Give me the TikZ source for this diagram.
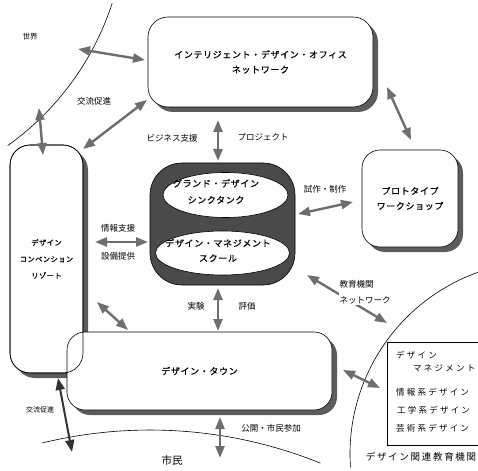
\documentclass[tikz,border=0pt]{standalone}
\usepackage{fontspec}
\newfontfamily\jp{Noto Sans CJK JP}
\newfontfamily\jpb[LetterSpace=7,FakeBold=0.6]{Noto Sans CJK JP}
\newfontfamily\jpw[LetterSpace=26]{Noto Sans CJK JP}
\newfontfamily\jpm[LetterSpace=18]{Noto Sans CJK JP}
\usetikzlibrary{arrows.meta,shadows,shapes.geometric}
\definecolor{arrgray}{HTML}{6E6E6E}
\definecolor{shd}{HTML}{5C5C5C}
\definecolor{darkfill}{HTML}{4A4A4A}
\tikzset{
  boxnode/.style={draw, fill=white, line width=0.6pt, inner sep=0pt, align=center,
    font=\jpb\fontsize{9}{15}\selectfont,
    drop shadow={shadow xshift=5pt, shadow yshift=-5pt, fill=shd, opacity=1}},
  dbl/.style={{Triangle[length=12pt,width=9pt]}-{Triangle[length=12pt,width=9pt]},
    line width=2.4pt, draw=arrgray},
  dbldark/.style={dbl, draw=black!80, line width=2pt},
  lab/.style={font=\jp\fontsize{8.5}{16}\selectfont, inner sep=0.5pt},
  curve/.style={line width=0.6pt},
  edutext/.style={font=\jpw\fontsize{8.5}{11}\selectfont, inner sep=0pt, anchor=west},
}
\begin{document}
\begin{tikzpicture}[x=1pt,y=-1pt]
\useasboundingbox (0,0) rectangle (478,470);
\clip (0,0) rectangle (478,470);

% boundary curves
\draw[curve] (-156,-84) ++(18:282) arc[start angle=18,end angle=54.5,radius=282];
\draw[curve] (543,454) ++(176:193) arc[start angle=176,end angle=256,radius=193];
\draw[curve] (150,885) ++(-103.7:455) arc[start angle=-103.7,end angle=-68,radius=455];

% boxes
\node[boxnode, rounded corners=20pt, minimum width=225pt, minimum height=90pt] (idon) at (260.5,62)
  {インテリジェント・デザイン・オフィス\\ネットワーク};
\node[boxnode, rounded corners=18pt, minimum width=96pt, minimum height=97pt] (proto) at (410,198.5)
  {プロトタイプ\\ワークショップ};
\node[boxnode, rounded corners=20pt, minimum width=73pt, minimum height=228pt,
  font=\jpb\fontsize{7.2}{16.5}\selectfont] (resort) at (46.5,259)
  {デザイン\\コンベンション\\リゾート};
\node[boxnode, rounded corners=18pt, minimum width=265pt, minimum height=78pt] (town) at (199.5,371)
  {デザイン・タウン};
\node[draw, rounded corners=20pt, minimum width=73pt, minimum height=228pt, inner sep=0pt,
  line width=0.6pt] (resortline) at (resort.center) {};

% central think tank / school
\node[draw, fill=darkfill, rounded corners=32pt, minimum width=145pt, minimum height=122pt,
  line width=0.6pt] (core) at (222.5,224) {};
\node[draw, fill=white, ellipse, minimum width=125pt, minimum height=45pt, inner sep=0pt,
  line width=0.6pt] (tank) at (225.5,195) {};
\node[draw, fill=white, ellipse, minimum width=134pt, minimum height=44pt, inner sep=0pt,
  line width=0.6pt] (school) at (222.5,253) {};
\node[font=\jpb\fontsize{9}{16.5}\selectfont, align=center, inner sep=0pt] (tanktext) at (216,191.5)
  {グランド・デザイン\\シンクタンク};
\node[font=\jpb\fontsize{9}{15}\selectfont, align=center, inner sep=0pt] (schooltext) at (218,250.5)
  {デザイン・マネジメント\\スクール};

% education institutions box
\node[draw, line width=0.8pt, minimum width=103pt, minimum height=103pt, inner sep=0pt,
  anchor=north west] (edubox) at (387,342) {};
\node[edutext] (e1) at (396,355) {デザイン};
\node[edutext] (e2) at (413,368) {マネジメント};
\node[edutext] (e3) at (396,392) {情報系デザイン};
\node[edutext] (e4) at (397,410) {工学系デザイン};
\node[edutext] (e5) at (396,428) {芸術系デザイン};
\node[font=\jpm\fontsize{9.5}{12}\selectfont, inner sep=0pt] (edulab) at (421,457) {デザイン関連教育機関};

% region labels
\node[font=\jp\fontsize{7.5}{9}\selectfont] (world) at (30,37) {世界};
\node[font=\jp\fontsize{10.5}{12}\selectfont] (citizens) at (172,460) {市民};

% arrow end points
\coordinate (a1s) at (78,49);   \coordinate (a1e) at (145,60);
\coordinate (a2s) at (147,100); \coordinate (a2e) at (83,149);
\coordinate (a3s) at (39,108);  \coordinate (a3e) at (43,155);
\coordinate (a4s) at (218,120); \coordinate (a4e) at (218,161);
\coordinate (a5s) at (387,87);  \coordinate (a5e) at (411,140);
\coordinate (a6s) at (95,242);  \coordinate (a6e) at (148,242);
\coordinate (a7s) at (298,214); \coordinate (a7e) at (353,202);
\coordinate (a8s) at (307,275); \coordinate (a8e) at (387,323);
\coordinate (a9s) at (218,288); \coordinate (a9e) at (218,331);
\coordinate (a10s) at (97,302); \coordinate (a10e) at (128,330);
\coordinate (a11s) at (343,370); \coordinate (a11e) at (380,388);
\coordinate (a12s) at (220,417); \coordinate (a12e) at (220,458);
\coordinate (a13s) at (58,378); \coordinate (a13e) at (72,452);

\draw[dbl] (a1s) -- (a1e);
\draw[dbl] (a2s) -- (a2e);
\draw[dbl] (a3s) -- (a3e);
\draw[dbl] (a4s) -- (a4e);
\draw[dbl] (a5s) -- (a5e);
\draw[dbl] (a6s) -- (a6e);
\draw[dbl] (a7s) -- (a7e);
\draw[dbl] (a8s) -- (a8e);
\draw[dbl] (a9s) -- (a9e);
\draw[dbl] (a10s) -- (a10e);
\draw[dbl] (a11s) -- (a11e);
\draw[dbl] (a12s) -- (a12e);
\draw[dbldark] (a13s) -- (a13e);

% connector labels
\node[lab] (l1) at (94,101) {交流促進};
\node[lab] (l2) at (172,138) {ビジネス支援};
\node[lab] (l3) at (263,137) {プロジェクト};
\node[lab] (l4) at (118,228) {情報支援};
\node[lab] (l5) at (118,256) {設備提供};
\node[lab] (l6) at (325,189) {試作・制作};
\node[lab, fill=white, align=left, anchor=north west, inner sep=0.5pt] (l7) at (339,280) {教育機関\\ネットワーク};
\node[lab] (l8) at (196,306) {実験};
\node[lab] (l9) at (247,306) {評価};
\node[lab, font=\jp\fontsize{7}{9}\selectfont] (l10) at (40,410) {交流促進};
\node[lab] (l11) at (271,428) {公開・市民参加};
\end{tikzpicture}
\end{document}
